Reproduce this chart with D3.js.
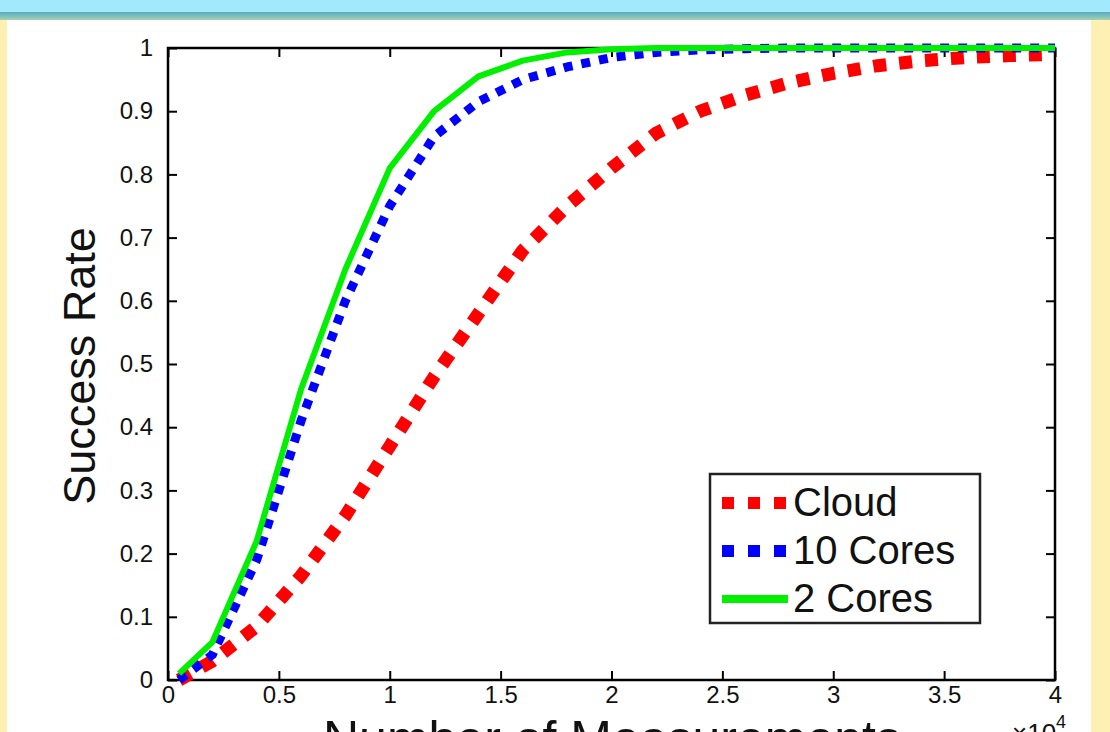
<!DOCTYPE html>
<html>
<head>
<meta charset="utf-8">
<script src="https://cdn.jsdelivr.net/npm/d3@7"></script>
<style>
  body { margin: 0; background: #fdf0b2; }
  svg { display: block; font-family: "Liberation Sans", Arial, sans-serif; }
</style>
</head>
<body>
<div id="chart"></div>
<script>
// x positions (units of 10^4 measurements)
let xs = [0.05, 0.2, 0.4, 0.6, 0.8, 1.0, 1.2, 1.4, 1.6, 1.8, 2.0, 2.2, 2.4, 2.6, 2.8, 3.0, 3.2, 3.4, 3.6, 3.8, 4.0];
let cloud = [0.0, 0.03, 0.085, 0.165, 0.26, 0.37, 0.48, 0.58, 0.68, 0.75, 0.81, 0.865, 0.90, 0.925, 0.945, 0.96, 0.972, 0.98, 0.985, 0.988, 0.99];
let cores10 = [0.0, 0.04, 0.19, 0.41, 0.60, 0.75, 0.86, 0.915, 0.95, 0.97, 0.985, 0.993, 0.997, 0.999, 1, 1, 1, 1, 1, 1, 1];
let cores2 = [0.01, 0.06, 0.22, 0.46, 0.65, 0.81, 0.90, 0.955, 0.98, 0.993, 0.998, 1, 1, 1, 1, 1, 1, 1, 1, 1, 1];
let xTicks = [0, 0.5, 1, 1.5, 2, 2.5, 3, 3.5, 4];
let yTicks = [0, 0.1, 0.2, 0.3, 0.4, 0.5, 0.6, 0.7, 0.8, 0.9, 1];
let seriesNames = ["Cloud", "10 Cores", "2 Cores"];

let W = 1110, H = 732;
let margin = {top: 48, left: 168, right: 1055, bottom: 680};

let svg = d3.select("#chart").append("svg")
    .attr("width", W)
    .attr("height", H);

// background: yellow page, blue header band, white panel
let defs = svg.append("defs");
let grad = defs.append("linearGradient").attr("id", "band").attr("x1", 0).attr("y1", 0).attr("x2", 0).attr("y2", 1);
grad.append("stop").attr("offset", "0%").attr("stop-color", "#5aa9c4");
grad.append("stop").attr("offset", "100%").attr("stop-color", "#a6d2b2");

svg.append("rect").attr("width", W).attr("height", H).attr("fill", "#fdf0b2");
svg.append("rect").attr("x", 7).attr("y", 20).attr("width", 1084).attr("height", H - 20).attr("fill", "#ffffff");
svg.append("rect").attr("width", W).attr("height", 13).attr("fill", "#a3e9fd");
svg.append("rect").attr("y", 12).attr("width", W).attr("height", 8).attr("fill", "url(#band)");

let x = d3.scaleLinear().domain([0, 4]).range([margin.left, margin.right]);
let y = d3.scaleLinear().domain([0, 1]).range([margin.bottom, margin.top]);

// axes with inward ticks
let axB = svg.append("g")
    .attr("transform", "translate(0," + margin.bottom + ")")
    .call(d3.axisBottom(x).tickValues(xTicks).tickSize(-9).tickPadding(10).tickFormat(d3.format("")));
let axL = svg.append("g")
    .attr("transform", "translate(" + margin.left + ",0)")
    .call(d3.axisLeft(y).tickValues(yTicks).tickSize(-9).tickPadding(15).tickFormat(d3.format("")));
let axT = svg.append("g")
    .attr("transform", "translate(0," + margin.top + ")")
    .call(d3.axisTop(x).tickValues(xTicks).tickSize(-9).tickFormat(""));
let axR = svg.append("g")
    .attr("transform", "translate(" + margin.right + ",0)")
    .call(d3.axisRight(y).tickValues(yTicks).tickSize(-9).tickFormat(""));

[axB, axL, axT, axR].forEach(function(g) {
    g.select(".domain").remove();
    g.selectAll(".tick line").attr("stroke", "#000").attr("stroke-width", 2);
    g.selectAll(".tick text").attr("fill", "#111").style("font-size", "24px")
        .style("font-family", "'Liberation Sans', Arial, sans-serif");
});
axB.selectAll(".tick text").attr("dy", "0.55em");

svg.append("rect")
    .attr("x", margin.left).attr("y", margin.top)
    .attr("width", margin.right - margin.left).attr("height", margin.bottom - margin.top)
    .attr("fill", "none").attr("stroke", "#000").attr("stroke-width", 2.5);

// lines
let styles = [
    {data: cloud, color: "#ff0000", width: 13, dash: "13,13"},
    {data: cores10, color: "#0000ff", width: 9, dash: "9,9"},
    {data: cores2, color: "#00f000", width: 6, dash: null}
];
let line = d3.line().x(function(d) { return x(d[0]); }).y(function(d) { return y(d[1]); });
styles.forEach(function(s) {
    svg.append("path")
        .datum(xs.map(function(v, i) { return [v, s.data[i]]; }))
        .attr("d", line)
        .attr("fill", "none")
        .attr("stroke", s.color)
        .attr("stroke-width", s.width)
        .attr("stroke-dasharray", s.dash)
        .attr("stroke-linejoin", "round");
});

// axis titles
svg.append("text")
    .attr("transform", "translate(95,366) rotate(-90)")
    .attr("text-anchor", "middle")
    .style("font-size", "45px")
    .attr("fill", "#111")
    .text("Success Rate");

svg.append("text")
    .attr("x", 612).attr("y", 756)
    .attr("text-anchor", "middle")
    .style("font-size", "50px")
    .attr("fill", "#111")
    .text("Number of Measurements");

let mult = svg.append("text").attr("x", 1012).attr("y", 742).style("font-size", "26px").attr("fill", "#111");
mult.append("tspan").text("\u00d710");
mult.append("tspan").attr("dy", -14).style("font-size", "18px").text("4");

// legend
let legend = svg.append("g").attr("transform", "translate(710,474)");
legend.append("rect").attr("width", 270).attr("height", 149)
    .attr("fill", "#fff").attr("stroke", "#222").attr("stroke-width", 2.5);
seriesNames.forEach(function(name, i) {
    let s = styles[i];
    let ly = 29 + i * 48;
    legend.append("line")
        .attr("x1", 12).attr("x2", 78).attr("y1", ly).attr("y2", ly)
        .attr("stroke", s.color)
        .attr("stroke-width", s.width === 6 ? 8 : 12)
        .attr("stroke-dasharray", s.dash ? "12,14" : null);
    legend.append("text")
        .attr("x", 83).attr("y", ly + 13)
        .style("font-size", "40px")
        .attr("fill", "#111")
        .text(name);
});
</script>
</body>
</html>
